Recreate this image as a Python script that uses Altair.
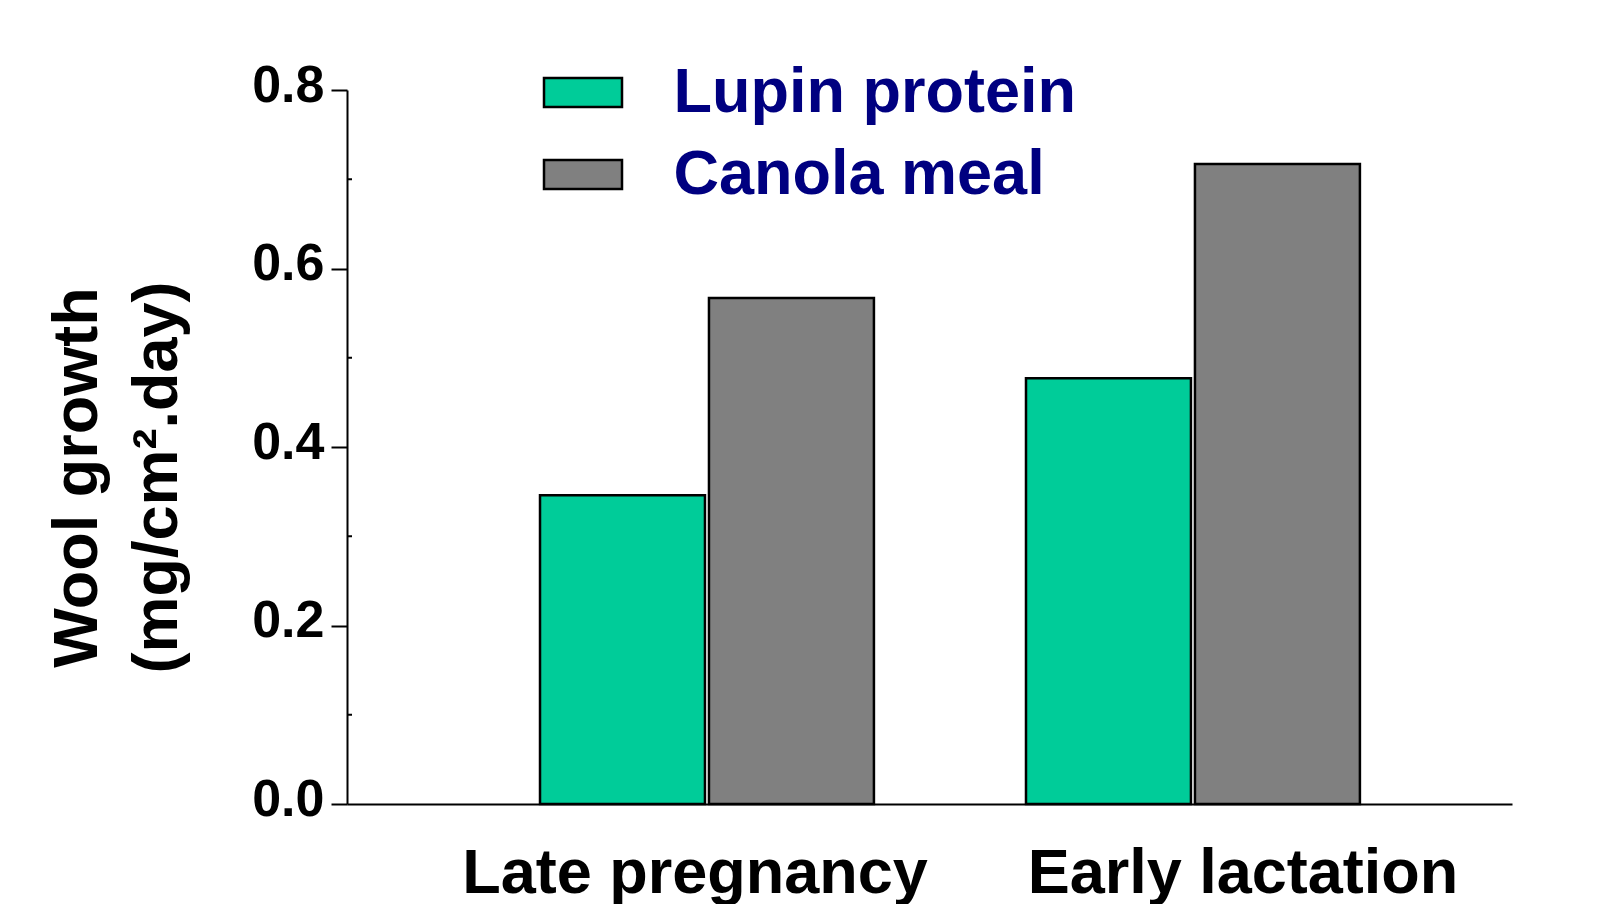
import altair as alt
import pandas as pd

periods = ["Late pregnancy", "Early lactation"]
supplements = ["Lupin protein", "Canola meal"]
lupin_values = [0.346, 0.477]
canola_values = [0.567, 0.717]
y_ticks = [0.0, 0.2, 0.4, 0.6, 0.8]
y_minor_ticks = [0.1, 0.3, 0.5, 0.7]
colors = ["#00CC99", "#808080"]

rows = []
for i, p in enumerate(periods):
    rows.append({"period": p, "supplement": supplements[0], "growth": lupin_values[i]})
    rows.append({"period": p, "supplement": supplements[1], "growth": canola_values[i]})
df = pd.DataFrame(rows)
minor_df = pd.DataFrame({"growth": y_minor_ticks})

FONT = "Liberation Sans"

y_enc = alt.Y(
    "growth:Q",
    scale=alt.Scale(domain=[0, 0.8], nice=False, zero=True),
    axis=alt.Axis(
        values=y_ticks, format=".1f", grid=False,
        tickSize=16, tickWidth=2, tickColor="black",
        domainColor="black", domainWidth=2,
        labelFont=FONT, labelFontSize=52, labelFontWeight="bold", labelColor="black",
        labelPadding=7, labelOffset=-5,
        title=["Wool growth", "(mg/cm\u00b2.day)"],
        titleFont=FONT, titleFontSize=63, titleFontWeight="bold", titleColor="black",
        titleAngle=270, titleAlign="center", titleBaseline="alphabetic",
        titleX=-251, titleY=387, titleLineHeight=80,
    ),
)

x_enc = alt.X(
    "period:N", sort=periods, title=None,
    scale=alt.Scale(domain=periods, paddingInner=0, paddingOuter=0.1986, align=0.606),
    axis=alt.Axis(
        labelAngle=0, ticks=False, tickSize=0,
        domainColor="black", domainWidth=2,
        labelFont=FONT, labelFontSize=63, labelFontWeight="bold", labelColor="black",
        labelPadding=38, labelBaseline="top", labelLimit=800,
        labelOffset={"condition": {"test": "datum.value == 'Early lactation'", "value": 50}, "value": -12},
    ),
)

bars = alt.Chart(df).mark_bar(stroke="black", strokeWidth=2.5).encode(
    x=x_enc,
    xOffset=alt.XOffset(
        "supplement:N", sort=supplements,
        scale=alt.Scale(domain=supplements, paddingInner=0.0237, paddingOuter=0.45),
    ),
    y=y_enc,
    color=alt.Color(
        "supplement:N", sort=supplements,
        scale=alt.Scale(domain=supplements, range=colors),
        legend=alt.Legend(
            orient="none", legendX=195.5, legendY=-38, title=None, direction="vertical",
            symbolType="M-1,-0.372H1V0.372H-1Z", symbolSize=6084,
            symbolStrokeColor="black", symbolStrokeWidth=2.5, symbolOpacity=1,
            labelFont=FONT, labelFontSize=63, labelFontWeight="bold", labelColor="#000080",
            labelOffset=50, labelLimit=800, rowPadding=9, padding=0,
            labelExpr="datum.label == 'Canola meal' ? '\u2009' + datum.label : datum.label",
        ),
    ),
)

minor = alt.Chart(minor_df).mark_rule(color="black", strokeWidth=2).encode(
    y=y_enc,
    x=alt.value(0),
    x2=alt.value(5),
)

chart = alt.layer(bars, minor).properties(
    width=1165, height=714,
    autosize=alt.AutoSizeParams(type="none"),
    padding={"left": 339, "top": 82, "right": 88, "bottom": 100},
    background="white",
).configure_view(stroke=None)

chart.save("out.html", embed_options={"renderer": "svg", "actions": False})
